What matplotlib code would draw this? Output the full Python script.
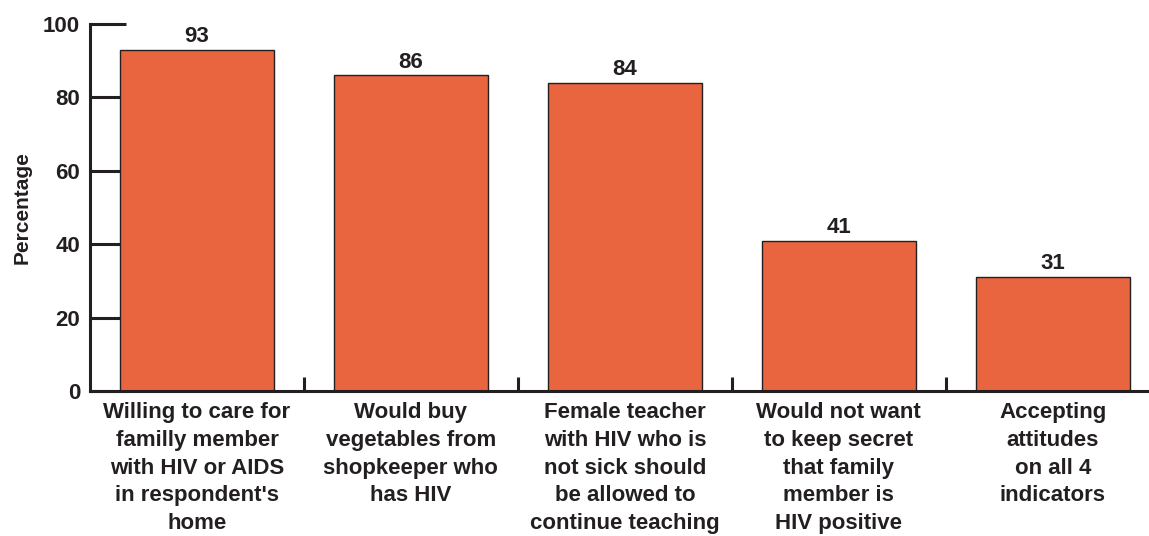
import matplotlib
matplotlib.use("Agg")
import matplotlib.pyplot as plt
import numpy as np

categories = [
    "Willing to care for\nfamilly member\nwith HIV or AIDS\nin respondent's\nhome",
    "Would buy\nvegetables from\nshopkeeper who\nhas HIV",
    "Female teacher\nwith HIV who is\nnot sick should\nbe allowed to\ncontinue teaching",
    "Would not want\nto keep secret\nthat family\nmember is\nHIV positive",
    "Accepting\nattitudes\non all 4\nindicators",
]
values = [93, 86, 84, 41, 31]
yticks = [0, 20, 40, 60, 80, 100]

plt.rcParams['font.family'] = ['Liberation Sans', 'DejaVu Sans']
plt.rcParams['font.weight'] = 'bold'

bar_color = '#E8653F'
ink = '#231f20'

fig = plt.figure(figsize=(11.49, 5.36), dpi=100)
ax = fig.add_axes([0.0783, 0.2705, 0.9217, 0.6845])

x = np.arange(len(values))
bars = ax.bar(x, values, width=0.72, color=bar_color, edgecolor=ink, linewidth=1.0, zorder=2)

for xi, v in zip(x, values):
    ax.text(xi, v + 0.8, str(v), ha='center', va='bottom', fontsize=16, fontweight='bold', color=ink)

ax.set_xlim(-0.5, 4.45)
ax.set_ylim(0, 100)

ax.set_yticks(yticks)
ax.set_yticklabels([str(t) for t in yticks], fontsize=16, fontweight='bold', color=ink)
ax.tick_params(axis='y', direction='in', length=26, width=2.2, color=ink, pad=7)

# category labels sit under the bars, ticks go between them
ax.set_xticks(x)
ax.set_xticklabels(categories, fontsize=16, fontweight='bold', color=ink, linespacing=1.42, va='top')
ax.tick_params(axis='x', which='major', length=0, pad=8)
ax.set_xticks(x[:-1] + 0.5, minor=True)
ax.tick_params(axis='x', which='minor', direction='in', length=10, width=2.2, color=ink)

ax.set_ylabel('Percentage', fontsize=15, fontweight='bold', color=ink, labelpad=8)

for side in ['top', 'right']:
    ax.spines[side].set_visible(False)
for side in ['left', 'bottom']:
    ax.spines[side].set_linewidth(2.2)
    ax.spines[side].set_color(ink)

fig.savefig('out.png', dpi=100)
